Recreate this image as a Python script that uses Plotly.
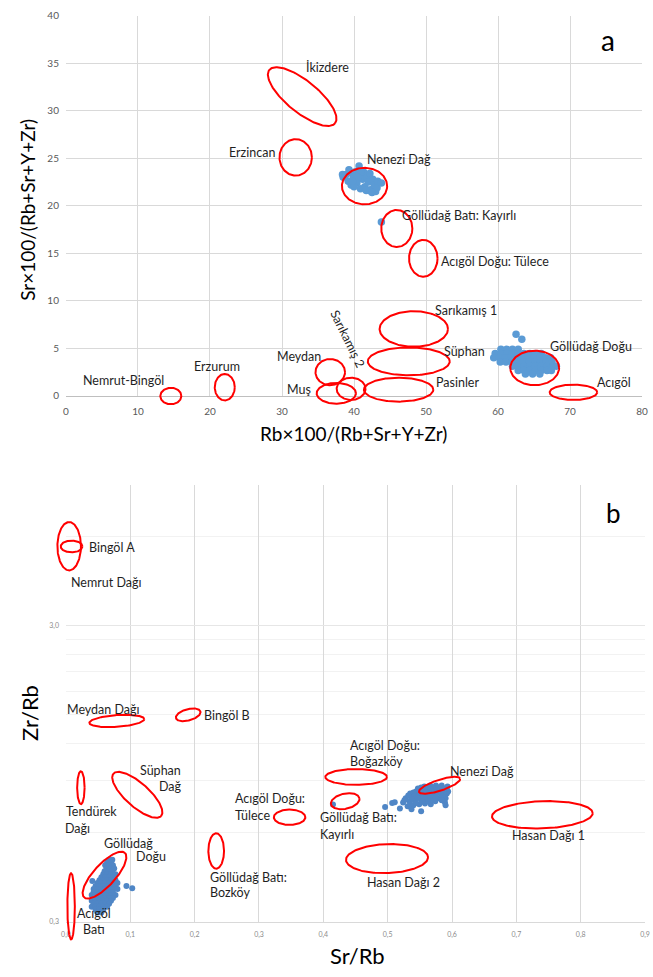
import numpy as np
import plotly.graph_objects as go

W, H = 653, 977
FONT = "Lato, 'Open Sans', sans-serif"


def px(v):
    return v / W


def py(v):
    return 1 - v / H


# ---------------- Panel a data ----------------
a_x_range = [0, 80]
a_y_range = [0, 40]

nenezi_a_pts = [
    (38.5, 23.0), (38.9, 23.3), (39.2, 22.6), (39.5, 23.5), (39.6, 22.2), (39.9, 23.0),
    (40.2, 23.6), (40.4, 22.4), (40.7, 24.2), (40.8, 23.2), (40.9, 21.8), (41.2, 22.8),
    (41.4, 23.5), (41.5, 22.0), (41.8, 23.0), (42.0, 22.5), (42.2, 23.4), (42.3, 21.7),
    (42.6, 22.8), (42.8, 22.2), (43.0, 21.5), (43.3, 22.6), (43.2, 21.9), (42.1, 21.6),
    (39.3, 23.8), (40.0, 22.0), (41.0, 23.7), (41.7, 21.6), (40.5, 23.0), (39.8, 22.6),
    (42.5, 21.4), (43.8, 22.4), (38.4, 23.3),
]
kayirli_a_pts = [(43.8, 18.3)]
golludag_a_rows = [
    (4.9, [60.4, 61.2, 62.0, 62.8]),
    (4.45, [59.6, 60.4, 61.2, 62.0, 62.8, 63.6, 64.4, 65.2, 66.0]),
    (4.0, [59.4, 60.2, 61.0, 61.8, 62.6, 63.4, 64.2, 65.0, 65.8, 66.6, 67.3]),
    (3.55, [60.3, 61.1, 61.9, 62.7, 63.5, 64.3, 65.1, 65.9, 66.7, 67.5]),
    (3.1, [62.0, 62.8, 63.6, 64.4, 65.2, 66.0, 66.8, 67.6, 68.1]),
    (2.65, [62.8, 63.6, 64.4, 65.2, 66.0, 66.8, 67.4]),
    (2.3, [63.8, 64.8, 65.8]),
]
golludag_a_extra = [(62.5, 6.47), (63.3, 5.95)]

# ellipses: cx, cy, semi-axis x (x units), semi-axis y (y units), angle deg
a_ell_name = ["İkizdere", "Erzincan", "Nenezi Dağ", "Kayırlı", "Tülece", "Sarıkamış 1",
              "Süphan", "Pasinler", "Meydan", "Sarıkamış 2", "Muş", "Nemrut-Bingöl",
              "Erzurum", "Göllüdağ Doğu", "Acıgöl"]
a_ell_cx = [32.8, 31.9, 41.46, 45.94, 49.62, 48.3, 47.6, 46.19, 36.7, 39.59, 37.54, 14.56, 22.05, 65.09, 70.47]
a_ell_cy = [31.5, 25.1, 22.08, 17.61, 14.47, 7.03, 3.62, 0.64, 2.49, 0.73, 0.26, -0.03, 0.9, 2.93, 0.36]
a_ell_rx = [5.87, 2.25, 3.14, 2.16, 1.98, 4.75, 5.69, 4.82, 2.05, 2.0, 2.73, 1.46, 1.39, 3.39, 3.3]
a_ell_ry = [1.66, 1.92, 1.92, 1.95, 1.94, 1.87, 1.47, 1.26, 1.38, 1.17, 1.09, 0.87, 1.39, 1.82, 0.81]
a_ell_ang = [-39, 0, 0, 0, 0, 0, 0, 0, 0, 0, 0, 0, 0, 0, 0]

a_lbl_text = ["İkizdere", "Erzincan", "Nenezi Dağ", "Göllüdağ Batı: Kayırlı", "Acıgöl Doğu: Tülece",
              "Sarıkamış 1", "Süphan", "Pasinler", "Göllüdağ Doğu", "Acıgöl", "Sarıkamış 2",
              "Meydan", "Muş", "Erzurum", "Nemrut-Bingöl"]
a_lbl_x = [36.25, 25.9, 46.25, 54.6, 59.6, 55.6, 55.3, 54.4, 72.9, 76.1, 39.1, 32.4, 32.3, 21.0, 8.0]
a_lbl_y = [34.6, 25.6, 24.9, 19.0, 14.1, 9.0, 4.64, 1.35, 5.19, 1.38, 6.05, 4.12, 0.65, 3.09, 1.56]
a_lbl_ang = [0, 0, 0, 0, 0, 0, 0, 0, 0, 0, 64, 0, 0, 0, 0]

# ---------------- Panel b data ----------------
b_x_range = [0, 0.9]
b_y_min, b_y_max = 0.3, 9.0

nenezi_b_pts = [
    (0.547, 0.846), (0.557, 0.859), (0.566, 0.865), (0.575, 0.865), (0.584, 0.865), (0.593, 0.859),
    (0.535, 0.814), (0.544, 0.826), (0.554, 0.833), (0.563, 0.839), (0.572, 0.839), (0.581, 0.833), (0.590, 0.833),
    (0.528, 0.783), (0.537, 0.789), (0.546, 0.801), (0.555, 0.807), (0.564, 0.814), (0.573, 0.807), (0.583, 0.807), (0.592, 0.814),
    (0.524, 0.759), (0.534, 0.765), (0.543, 0.771), (0.552, 0.777), (0.561, 0.783), (0.570, 0.777), (0.580, 0.783), (0.590, 0.783),
    (0.531, 0.736), (0.540, 0.742), (0.549, 0.748), (0.558, 0.753), (0.567, 0.748), (0.589, 0.759),
    (0.507, 0.755), (0.519, 0.724), (0.511, 0.760), (0.496, 0.732), (0.537, 0.720), (0.552, 0.708), (0.590, 0.742),
    (0.550, 0.795), (0.560, 0.795), (0.570, 0.850), (0.540, 0.800), (0.556, 0.765),
    (0.552, 0.852), (0.561, 0.852), (0.570, 0.852), (0.579, 0.852), (0.588, 0.846),
    (0.540, 0.820), (0.549, 0.830), (0.558, 0.836), (0.567, 0.839), (0.576, 0.836), (0.585, 0.830), (0.594, 0.826),
    (0.532, 0.800), (0.541, 0.795), (0.551, 0.814), (0.560, 0.820), (0.569, 0.826), (0.578, 0.820), (0.587, 0.820),
    (0.526, 0.771), (0.538, 0.777), (0.547, 0.786), (0.556, 0.792), (0.566, 0.798), (0.575, 0.792), (0.585, 0.795),
    (0.535, 0.750), (0.544, 0.756), (0.553, 0.762), (0.563, 0.765), (0.574, 0.765), (0.584, 0.771),
]
kayirli_b_pts = [(0.415, 0.747)]
golludag_b_rows = [
    (0.486, [0.067, 0.072]),
    (0.475, [0.064, 0.070]),
    (0.465, [0.061, 0.067, 0.073]),
    (0.454, [0.063, 0.069, 0.075]),
    (0.444, [0.060, 0.066, 0.072]),
    (0.434, [0.058, 0.064, 0.070, 0.077]),
    (0.424, [0.055, 0.061, 0.067, 0.073]),
    (0.414, [0.052, 0.058, 0.064, 0.070, 0.077]),
    (0.405, [0.049, 0.055, 0.061, 0.067, 0.073, 0.080]),
    (0.396, [0.046, 0.052, 0.058, 0.064, 0.070, 0.077]),
    (0.387, [0.043, 0.049, 0.055, 0.061, 0.067, 0.073, 0.080]),
    (0.378, [0.043, 0.049, 0.055, 0.061, 0.067, 0.073]),
    (0.369, [0.040, 0.046, 0.052, 0.058, 0.064, 0.070, 0.077]),
    (0.361, [0.043, 0.049, 0.055, 0.061, 0.067, 0.073]),
    (0.353, [0.040, 0.046, 0.052, 0.058, 0.064, 0.070]),
    (0.345, [0.043, 0.049, 0.055, 0.061, 0.067]),
    (0.337, [0.040, 0.046, 0.052, 0.058, 0.064]),
    (0.329, [0.046, 0.052, 0.058]),
    (0.322, [0.049, 0.055]),
]
golludag_b_extra = [(0.041, 0.412), (0.094, 0.396), (0.103, 0.389)]

# ellipses: cx, cy (data), semi-axis x (x units), semi-axis y (decades), angle deg
b_ell_name = ["Nemrut Dağı", "Bingöl A", "Meydan Dağı", "Bingöl B", "Tendürek Dağı", "Süphan Dağ",
              "Göllüdağ Doğu", "Acıgöl Batı", "Tülece", "Bozköy", "Kayırlı", "Boğazköy",
              "Nenezi Dağ", "Hasan Dağı 1", "Hasan Dağı 2"]
b_ell_cx = [0.0050, 0.0087, 0.0791, 0.190, 0.0232, 0.1109, 0.0599, 0.0080, 0.3476, 0.2335, 0.434, 0.451, 0.5807, 0.7404, 0.499]
b_ell_cy = [5.57, 5.56, 1.43, 1.50, 0.851, 0.805, 0.431, 0.338, 0.676, 0.520, 0.766, 0.925, 0.867, 0.689, 0.490]
b_ell_rx = [0.0183, 0.0168, 0.0428, 0.0197, 0.0058, 0.0495, 0.0468, 0.0058, 0.0245, 0.0122, 0.0226, 0.0479, 0.0336, 0.0783, 0.0638]
b_ell_ry = [0.0817, 0.020, 0.020, 0.019, 0.0557, 0.040, 0.0367, 0.112, 0.026, 0.060, 0.0257, 0.0267, 0.0183, 0.046, 0.049]
b_ell_ang = [0, 0, 4, 15, 0, -41.6, 47.4, 0, 0, 0, 12, 0, 18, 2, 2]

b_lbl_text = ["Bingöl A", "Nemrut Dağı", "Meydan Dağı", "Bingöl B", "Süphan", "Dağ", "Tendürek", "Dağı",
              "Göllüdağ", "Doğu", "Acıgöl<br>Batı", "Göllüdağ Batı:", "Bozköy", "Acıgöl Doğu:", "Tülece",
              "Acıgöl Doğu:", "Boğazköy", "Göllüdağ Batı:", "Kayırlı", "Nenezi Dağ", "Hasan Dağı 1", "Hasan Dağı 2"]
b_lbl_x = [0.0719, 0.0632, 0.0576, 0.2497, 0.1463, 0.1624, 0.0393, 0.0176,
           0.0976, 0.1318, 0.0443, 0.2213, 0.2213, 0.2595, 0.2595,
           0.4378, 0.4378, 0.3919, 0.3919, 0.6473, 0.75, 0.5245]
b_lbl_y = [5.51, 4.196, 1.566, 1.489, 0.976, 0.859, 0.709, 0.6185,
           0.551, 0.497, 0.2995, 0.4214, 0.3757, 0.781, 0.6858,
           1.1824, 1.040, 0.673, 0.5895, 0.9634, 0.585, 0.4067]
b_lbl_anchor = ["center"] * 11 + ["left"] * 8 + ["center"] * 3

# ---------------- layout geometry (pixel frame of the picture) ----------------
a_xdom = [px(62), px(648)]
a_ydom = [py(394), py(9)]
b_xdom = [px(62), px(651)]
b_ydom = [py(927), py(484)]

sx_a = (a_xdom[1] - a_xdom[0]) * W / (a_x_range[1] - a_x_range[0])
sy_a = (a_ydom[1] - a_ydom[0]) * H / (a_y_range[1] - a_y_range[0])
b_ylog = [np.log10(b_y_min), np.log10(b_y_max)]
sx_b = (b_xdom[1] - b_xdom[0]) * W / (b_x_range[1] - b_x_range[0])
sy_b = (b_ydom[1] - b_ydom[0]) * H / (b_ylog[1] - b_ylog[0])

EXT = 22  # px of extra room around the plots for ellipse outlines / labels


def ellipse(cx, cy, rx, ry, ang, sx, sy, logy=False):
    t = np.linspace(0, 2 * np.pi, 181)
    u = rx * sx * np.cos(t)
    v = ry * sy * np.sin(t)
    th = np.deg2rad(ang)
    pu = u * np.cos(th) - v * np.sin(th)
    pv = u * np.sin(th) + v * np.cos(th)
    x = cx + pu / sx
    if logy:
        y = 10 ** (np.log10(cy) + pv / sy)
    else:
        y = cy + pv / sy
    return list(x) + [None], list(y) + [None]


def flat_rows(rows, extra):
    xs, ys = [], []
    for y, xl in rows:
        for x in xl:
            xs.append(x)
            ys.append(y)
    for x, y in extra:
        xs.append(x)
        ys.append(y)
    return xs, ys


fig = go.Figure()

BLUE_A = "#5B9BD5"
BLUE_B = "#4F86C6"
RED = "#FF0000"

# panel a points
pa_x = [p[0] for p in nenezi_a_pts] + [p[0] for p in kayirli_a_pts]
pa_y = [p[1] for p in nenezi_a_pts] + [p[1] for p in kayirli_a_pts]
gx, gy = flat_rows(golludag_a_rows, golludag_a_extra)
pa_x += gx
pa_y += gy
fig.add_trace(go.Scatter(x=pa_x, y=pa_y, mode="markers", xaxis="x", yaxis="y",
                         marker=dict(size=7.5, color=BLUE_A), hoverinfo="skip", showlegend=False))

# panel b points
pb_x = [p[0] for p in nenezi_b_pts] + [p[0] for p in kayirli_b_pts]
pb_y = [p[1] for p in nenezi_b_pts] + [p[1] for p in kayirli_b_pts]
gx, gy = flat_rows(golludag_b_rows, golludag_b_extra)
pb_x += gx
pb_y += gy
fig.add_trace(go.Scatter(x=pb_x, y=pb_y, mode="markers", xaxis="x2", yaxis="y2",
                         marker=dict(size=6, color=BLUE_B), hoverinfo="skip", showlegend=False))

# ellipses panel a (overlay axes x3/y3)
ex, ey = [], []
for i in range(len(a_ell_cx)):
    x, y = ellipse(a_ell_cx[i], a_ell_cy[i], a_ell_rx[i], a_ell_ry[i], a_ell_ang[i], sx_a, sy_a)
    ex += x
    ey += y
fig.add_trace(go.Scatter(x=ex, y=ey, mode="lines", xaxis="x3", yaxis="y3",
                         line=dict(color=RED, width=2), hoverinfo="skip", showlegend=False))

# ellipses panel b (overlay axes x4/y4)
ex, ey = [], []
for i in range(len(b_ell_cx)):
    x, y = ellipse(b_ell_cx[i], b_ell_cy[i], b_ell_rx[i], b_ell_ry[i], b_ell_ang[i], sx_b, sy_b, logy=True)
    ex += x
    ey += y
fig.add_trace(go.Scatter(x=ex, y=ey, mode="lines", xaxis="x4", yaxis="y4",
                         line=dict(color=RED, width=2), hoverinfo="skip", showlegend=False))

GRID = "#d9d9d9"
TICK_A = dict(size=10, color="#595959", family=FONT)
TICK_B = dict(size=7, color="#8c8c8c", family=FONT)

fig.update_layout(
    width=W, height=H, autosize=False,
    margin=dict(l=0, r=0, t=0, b=0),
    paper_bgcolor="white", plot_bgcolor="rgba(0,0,0,0)",
    separators=", ",
    font=dict(family=FONT, color="#262626"),
    xaxis=dict(domain=a_xdom, range=a_x_range, dtick=10, tick0=0, showgrid=True, gridcolor=GRID,
               zeroline=False, showline=True, linecolor="#bfbfbf", ticks="", tickfont=TICK_A,
               ticklabelstandoff=6, ticklabeloverflow="allow", anchor="y", fixedrange=True),
    yaxis=dict(domain=a_ydom, range=a_y_range, dtick=5, tick0=0, showgrid=True, gridcolor=GRID,
               zeroline=False, showline=False, ticks="", tickfont=TICK_A, ticklabelstandoff=6,
               ticklabeloverflow="allow", anchor="x", fixedrange=True),
    xaxis2=dict(domain=b_xdom, range=b_x_range, dtick=0.1, tick0=0, showgrid=True, gridcolor=GRID,
                zeroline=False, showline=True, linecolor=GRID, ticks="", tickfont=TICK_B,
                tickformat=".1f", ticklabelstandoff=6, ticklabeloverflow="allow", anchor="y2",
                fixedrange=True),
    yaxis2=dict(type="log", domain=b_ydom, range=b_ylog, tickvals=[0.3, 3.0], tickformat=".1f",
                showgrid=True, gridcolor="#e6e6e6", zeroline=False, showline=False, ticks="",
                tickfont=TICK_B, ticklabelstandoff=6, ticklabeloverflow="allow", anchor="x2",
                fixedrange=True,
                minor=dict(tickvals=[0.6, 0.9, 1.2, 1.5, 1.8, 2.1, 2.4, 2.7, 6.0], showgrid=True,
                           gridcolor="#f2f2f2", ticks="")),
    xaxis3=dict(domain=[a_xdom[0] - EXT / W, a_xdom[1]],
                range=[a_x_range[0] - EXT / sx_a, a_x_range[1]],
                visible=False, anchor="y3", fixedrange=True),
    yaxis3=dict(domain=[a_ydom[0] - EXT / H, a_ydom[1]], range=[a_y_range[0] - EXT / sy_a, a_y_range[1]],
                visible=False, anchor="x3", fixedrange=True),
    xaxis4=dict(domain=[b_xdom[0] - EXT / W, b_xdom[1]],
                range=[b_x_range[0] - EXT / sx_b, b_x_range[1]],
                visible=False, anchor="y4", fixedrange=True),
    yaxis4=dict(type="log", domain=[b_ydom[0] - EXT / H, b_ydom[1]], range=[b_ylog[0] - EXT / sy_b, b_ylog[1]],
                visible=False, anchor="x4", fixedrange=True),
)

anns = []
LBL = dict(size=12.5, color="#1f1f1f", family=FONT)
for t, x, y, a in zip(a_lbl_text, a_lbl_x, a_lbl_y, a_lbl_ang):
    anns.append(dict(text=t, x=x, y=y, xref="x3", yref="y3", showarrow=False, font=LBL,
                     textangle=a, xanchor="center", yanchor="middle"))
for t, x, y, anc in zip(b_lbl_text, b_lbl_x, b_lbl_y, b_lbl_anchor):
    anns.append(dict(text=t, x=x, y=np.log10(y), xref="x4", yref="y4", showarrow=False, font=LBL,
                     xanchor=anc, yanchor="middle", align="center"))

# panel letters
anns.append(dict(text="a", x=75.2, y=37.5, xref="x", yref="y", showarrow=False,
                 font=dict(size=28, color="#000000", family=FONT)))
anns.append(dict(text="b", x=0.8506, y=np.log10(7.21), xref="x2", yref="y2", showarrow=False,
                 font=dict(size=26, color="#000000", family=FONT)))

# axis titles
TITLE = dict(size=19, color="#000000", family=FONT)
anns.append(dict(text="Rb×100/(Rb+Sr+Y+Zr)", x=px(354.5), y=py(432), xref="paper", yref="paper",
                 showarrow=False, font=TITLE, xanchor="center", yanchor="middle"))
anns.append(dict(text="Sr×100/(Rb+Sr+Y+Zr)", x=px(23), y=py(206), xref="paper", yref="paper",
                 showarrow=False, font=TITLE, textangle=-90, xanchor="center", yanchor="middle"))
TITLE_B = dict(size=22, color="#000000", family=FONT)
anns.append(dict(text="Sr/Rb", x=px(359), y=py(961), xref="paper", yref="paper",
                 showarrow=False, font=TITLE_B, xanchor="center", yanchor="middle"))
anns.append(dict(text="Zr/Rb", x=px(25), y=py(716), xref="paper", yref="paper",
                 showarrow=False, font=TITLE_B, textangle=-90, xanchor="center", yanchor="middle"))

fig.update_layout(annotations=anns)

# remove the default 8px page margin so the figure fills the window exactly
fig.write_html("out.html", config={"displayModeBar": False},
               post_script="document.body.style.margin='0px';")
